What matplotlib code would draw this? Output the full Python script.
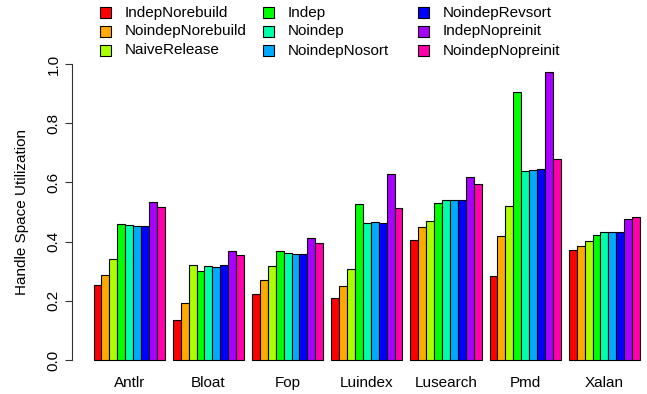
import matplotlib
matplotlib.use("Agg")
import matplotlib.pyplot as plt
from matplotlib.patches import Rectangle
import numpy as np

plt.rcParams['font.family'] = ['Liberation Sans', 'DejaVu Sans']

benchmarks = ["Antlr", "Bloat", "Fop", "Luindex", "Lusearch", "Pmd", "Xalan"]
series = ["IndepNorebuild", "NoindepNorebuild", "NaiveRelease", "Indep", "Noindep",
          "NoindepNosort", "NoindepRevsort", "IndepNopreinit", "NoindepNopreinit"]
colors = ["#FF0000", "#FFAA00", "#AAFF00", "#00FF00", "#00FFAA",
          "#00AAFF", "#0000FF", "#AA00FF", "#FF00AA"]

# values[series][benchmark]
IndepNorebuild   = [0.252, 0.134, 0.223, 0.211, 0.404, 0.284, 0.370]
NoindepNorebuild = [0.286, 0.191, 0.271, 0.251, 0.448, 0.420, 0.386]
NaiveRelease     = [0.340, 0.320, 0.318, 0.306, 0.468, 0.519, 0.403]
Indep            = [0.458, 0.300, 0.368, 0.526, 0.529, 0.906, 0.422]
Noindep          = [0.456, 0.316, 0.360, 0.464, 0.542, 0.640, 0.434]
NoindepNosort    = [0.452, 0.314, 0.358, 0.465, 0.539, 0.641, 0.434]
NoindepRevsort   = [0.452, 0.320, 0.359, 0.464, 0.542, 0.645, 0.434]
IndepNopreinit   = [0.533, 0.367, 0.412, 0.628, 0.617, 0.972, 0.475]
NoindepNopreinit = [0.517, 0.355, 0.394, 0.515, 0.593, 0.678, 0.484]
values = [IndepNorebuild, NoindepNorebuild, NaiveRelease, Indep, Noindep,
          NoindepNosort, NoindepRevsort, IndepNopreinit, NoindepNopreinit]
yticks = [0.0, 0.2, 0.4, 0.6, 0.8, 1.0]

W, H = 647, 394
fig = plt.figure(figsize=(W / 100, H / 100), dpi=100)
FS = 11

nser = len(series)
ngrp = len(benchmarks)
xmin, xmax = 1.0, ngrp * (nser + 1)
ext = 0.04 * (xmax - xmin)
ylo, yhi = -0.04, 1.04

left_px, bottom_px, top_px = 71.7, 371.8, 52.2
unit_px = 7.92
right_px = left_px + (xmax - xmin + 2 * ext) * unit_px
ax = fig.add_axes([left_px / W, (H - bottom_px) / H,
                   (right_px - left_px) / W, (bottom_px - top_px) / H])
ax.set_xlim(xmin - ext, xmax + ext)
ax.set_ylim(ylo, yhi)

centers = []
for g in range(ngrp):
    start = 1 + g * (nser + 1)
    for s in range(nser):
        ax.bar(start + s + 0.5, values[s][g], width=1.0, color=colors[s],
               edgecolor="black", linewidth=0.8)
    centers.append(start + nser / 2)

for sp in ["top", "right", "bottom"]:
    ax.spines[sp].set_visible(False)
ax.spines["left"].set_bounds(0, 1)
ax.spines["left"].set_linewidth(0.8)
ax.spines["left"].set_color("#333333")
ax.set_yticks(yticks)
ax.set_yticklabels([f"{t:.1f}" for t in yticks], rotation=90, va="center")
ax.tick_params(axis="y", length=5, width=0.8, pad=3, labelsize=FS, color="#333333")
ax.set_xticks(centers)
ax.set_xticklabels(benchmarks)
ax.tick_params(axis="x", length=0, pad=3, labelsize=FS)
ax.set_ylabel("Handle Space Utilization", fontsize=FS, labelpad=13)

# legend (3 columns, manual like R)
col_x = [100, 263, 418]
row_y = [12.5, 31.5, 50.5]
sq = 11
for i, (name, c) in enumerate(zip(series, colors)):
    col, row = divmod(i, 3)
    x0 = col_x[col]
    yc = row_y[row]
    fig.add_artist(Rectangle((x0 / W, (H - yc - sq / 2) / H), sq / W, sq / H,
                             transform=fig.transFigure, facecolor=c,
                             edgecolor="black", linewidth=0.8))
    fig.text((x0 + 25) / W, (H - yc) / H, name, fontsize=FS, va="center", ha="left")

fig.savefig("out.png", dpi=100)
